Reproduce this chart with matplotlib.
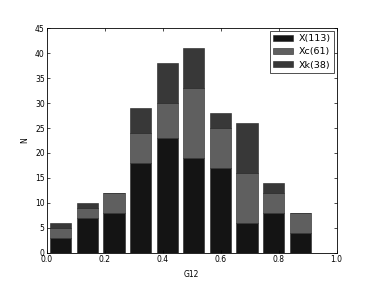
import numpy as np
import matplotlib
matplotlib.use("Agg")
import matplotlib.pyplot as plt

# histogram bins (10 bins between min and max of G12)
g12_min = 0.002
g12_max = 0.921
n_bins = 10

x_counts = [3, 7, 8, 18, 23, 19, 17, 6, 8, 4]      # X(113)
xc_counts = [2, 2, 4, 6, 7, 14, 8, 10, 4, 4]       # Xc(61)
xk_counts = [1, 1, 0, 5, 8, 8, 3, 10, 2, 0]        # Xk(38)

labels = ["X(113)", "Xc(61)", "Xk(38)"]
colors = ["#141414", "#5f5f5f", "#383838"]

edges = np.linspace(g12_min, g12_max, n_bins + 1)
centers = (edges[:-1] + edges[1:]) / 2.0

plt.rcParams["font.size"] = 5.5
plt.rcParams["axes.linewidth"] = 0.6

fig = plt.figure(figsize=(3.74, 2.81), dpi=100)
ax = fig.add_axes([0.125, 0.1, 0.775, 0.8])

# stacked histogram, old-style look
ax.hist([centers, centers, centers], bins=edges,
        weights=[x_counts, xc_counts, xk_counts],
        histtype="barstacked", rwidth=0.8, color=colors,
        edgecolor="#222222", linewidth=0.4, label=labels)

ax.set_xlim(0, 1.0)
ax.set_ylim(0, 45)
ax.set_xticks([0.0, 0.2, 0.4, 0.6, 0.8, 1.0])
ax.set_yticks(range(0, 46, 5))
ax.tick_params(direction="in", top=True, right=True, length=2.2, width=0.5, pad=1.5)
ax.set_xlabel("G12", labelpad=4)
ax.set_ylabel("N", labelpad=4)

leg = ax.legend(loc="upper right", fancybox=False, fontsize=6.8, handlelength=2.1,
                handleheight=0.6, borderpad=0.35, labelspacing=0.45,
                handletextpad=0.6, borderaxespad=0.3)
leg.get_frame().set_edgecolor("black")
leg.get_frame().set_linewidth(0.6)

fig.savefig("out.png", dpi=100)
